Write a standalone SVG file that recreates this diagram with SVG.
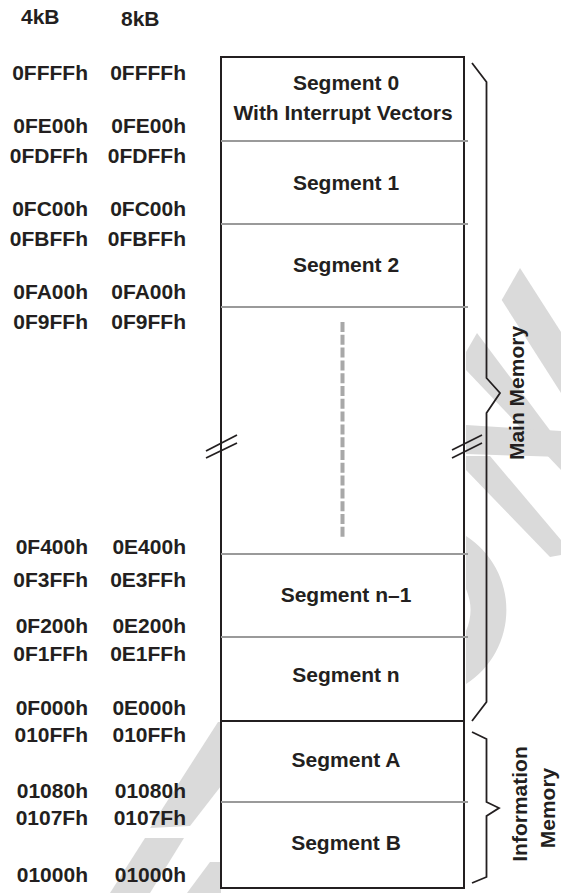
<svg xmlns="http://www.w3.org/2000/svg" width="561" height="893" viewBox="0 0 561 893">
  <style>
    text { font-family: "Liberation Sans", Arial, Helvetica, sans-serif; font-weight: bold; font-size: 21px; fill: #231f20; }
    .addr { text-anchor: end; }
    .seg { text-anchor: middle; }
    .mark { fill: #dadada; stroke: none; }
    .frame { fill: #ffffff; stroke: #231f20; stroke-width: 2; }
    .split { stroke: #9a9a9a; stroke-width: 2; fill: none; }
    .hard { stroke: #231f20; stroke-width: 2; fill: none; }
    .dots { stroke: #a8a8a8; stroke-width: 4; stroke-dasharray: 10 2.8; fill: none; }
    .brace { stroke: #231f20; stroke-width: 1.8; fill: none; stroke-linejoin: miter; }
    .cut { stroke: #231f20; stroke-width: 1.8; fill: none; }
  </style>

  <!-- light background mark -->
  <g id="background-mark">
    <polygon class="mark" points="501.7,300 520,268 561,332 561,393"/>
    <polygon class="mark" points="466,352 477,333 561,445 561,470 466,370"/>
    <polygon class="mark" points="466,425 561,431 561,457 466,454"/>
    <polygon class="mark" points="466,456 490,456 561,540 561,555 550,557 466,470"/>
    <path class="mark" d="M466,536 A88,88 0 0 1 466,684 L466,631 A53,53 0 0 0 466,589 Z"/>
    <polygon class="mark" points="218,722 221,722 221,786 190,826 150,828"/>
    <polygon class="mark" points="145,838 184,838 150,893 110,893"/>
    <polygon class="mark" points="187,893 210,862 221,862 221,893"/>
  </g>

  <!-- column headings -->
  <g id="headings">
    <text x="21" y="24" style="font-size:21px">4kB</text>
    <text x="121" y="26">8kB</text>
  </g>

  <!-- address labels, 4kB column then 8kB column -->
  <g id="addresses">
    <text class="addr" x="88" y="80">0FFFFh</text>
    <text class="addr" x="186" y="80">0FFFFh</text>
    <text class="addr" x="88" y="133">0FE00h</text>
    <text class="addr" x="186" y="133">0FE00h</text>
    <text class="addr" x="88" y="163">0FDFFh</text>
    <text class="addr" x="186" y="163">0FDFFh</text>
    <text class="addr" x="88" y="216">0FC00h</text>
    <text class="addr" x="186" y="216">0FC00h</text>
    <text class="addr" x="88" y="246">0FBFFh</text>
    <text class="addr" x="186" y="246">0FBFFh</text>
    <text class="addr" x="88" y="299">0FA00h</text>
    <text class="addr" x="186" y="299">0FA00h</text>
    <text class="addr" x="88" y="329">0F9FFh</text>
    <text class="addr" x="186" y="329">0F9FFh</text>
    <text class="addr" x="88" y="554">0F400h</text>
    <text class="addr" x="186" y="554">0E400h</text>
    <text class="addr" x="88" y="587">0F3FFh</text>
    <text class="addr" x="186" y="587">0E3FFh</text>
    <text class="addr" x="88" y="633">0F200h</text>
    <text class="addr" x="186" y="633">0E200h</text>
    <text class="addr" x="88" y="661">0F1FFh</text>
    <text class="addr" x="186" y="661">0E1FFh</text>
    <text class="addr" x="88" y="715">0F000h</text>
    <text class="addr" x="186" y="715">0E000h</text>
    <text class="addr" x="88" y="742">010FFh</text>
    <text class="addr" x="186" y="742">010FFh</text>
    <text class="addr" x="88" y="798">01080h</text>
    <text class="addr" x="186" y="798">01080h</text>
    <text class="addr" x="88" y="825">0107Fh</text>
    <text class="addr" x="186" y="825">0107Fh</text>
    <text class="addr" x="88" y="882">01000h</text>
    <text class="addr" x="186" y="882">01000h</text>
  </g>

  <!-- memory column -->
  <g id="memory-column">
    <rect class="frame" x="221" y="57" width="243" height="831"/>
    <line class="split" x1="221" y1="141" x2="468" y2="141"/>
    <line class="split" x1="221" y1="224" x2="468" y2="224"/>
    <line class="split" x1="221" y1="307" x2="468" y2="307"/>
    <line class="split" x1="221" y1="554" x2="468" y2="554"/>
    <line class="split" x1="221" y1="637" x2="468" y2="637"/>
    <line class="hard" x1="221" y1="721" x2="464" y2="721"/>
    <line class="split" x1="221" y1="802" x2="468" y2="802"/>
    <line class="dots" x1="342.5" y1="322" x2="342.5" y2="537"/>
    <line class="cut" x1="206" y1="451" x2="237" y2="435"/>
    <line class="cut" x1="206" y1="458" x2="237" y2="443"/>
    <line class="cut" x1="452" y1="450" x2="482" y2="435"/>
    <line class="cut" x1="452" y1="458" x2="482" y2="443"/>
  </g>

  <g id="segment-0">
    <text class="seg" x="346" y="90">Segment 0</text>
    <text class="seg" x="343" y="120">With Interrupt Vectors</text>
  </g>
  <g id="segment-1"><text class="seg" x="346" y="190">Segment 1</text></g>
  <g id="segment-2"><text class="seg" x="346" y="272">Segment 2</text></g>
  <g id="segment-n-1"><text class="seg" x="346" y="602">Segment n–1</text></g>
  <g id="segment-n"><text class="seg" x="346" y="682">Segment n</text></g>
  <g id="segment-a"><text class="seg" x="346" y="767">Segment A</text></g>
  <g id="segment-b"><text class="seg" x="346" y="850">Segment B</text></g>

  <!-- braces -->
  <g id="connectors">
    <path class="brace" d="M472,63 L486.5,82 L486.5,378 L500,393 L486.5,413 L486.5,702 L472,721"/>
    <path class="brace" d="M472,732 L486.5,739 L486.5,802 L499,808 L486.5,816 L486.5,877 L472,883"/>
  </g>

  <g id="main-memory">
    <text class="seg" transform="translate(524,393) rotate(-90)">Main Memory</text>
  </g>
  <g id="information-memory">
    <text class="seg" transform="translate(527,804) rotate(-90)">Information</text>
    <text class="seg" transform="translate(555,808) rotate(-90)">Memory</text>
  </g>
</svg>
